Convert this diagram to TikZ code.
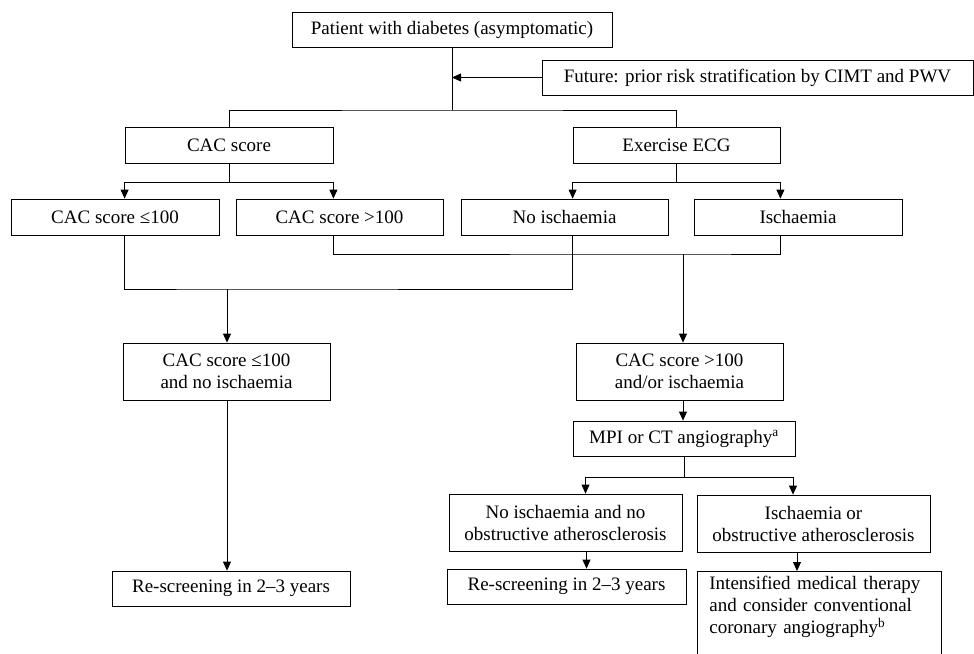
\documentclass[tikz,border=0pt]{standalone}
\usepackage{fontspec}
\setmainfont{Liberation Serif}
\usetikzlibrary{arrows.meta}

\begin{document}
\begin{tikzpicture}[x=1pt,y=-1pt,
  box/.style={draw,line width=0.8pt,inner sep=2pt,align=center,font=\fontsize{19}{22}\selectfont},
  link/.style={line width=0.8pt},
  arr/.style={link,-{Triangle[length=9pt,width=8pt]}}]
  \useasboundingbox (0,0) rectangle (974,653);

  % Start
  \node[box,minimum width=320pt,minimum height=35pt] (pat) at (452,29.5) {Patient with diabetes (asymptomatic)};
  \node[box,minimum width=431pt,minimum height=35pt] (fut) at (757.5,77.5) {Future: prior risk stratification by CIMT and PWV};
  \coordinate (bar1) at (452,110);
  \draw[arr] (fut.west) -- (pat.south |- fut.west);
  \draw[link] (pat.south) -- (bar1);

  % First tests
  \node[box,minimum width=208pt,minimum height=36pt] (cac) at (229,145) {CAC score};
  \node[box,minimum width=207pt,minimum height=36pt] (ecg) at (676.5,145) {Exercise ECG};
  \draw[link] (cac.north) |- (bar1) -| (ecg.north);

  % Results
  \node[box,minimum width=208pt,minimum height=36pt] (le) at (115,217) {CAC score ≤100};
  \node[box,minimum width=207pt,minimum height=36pt] (gt) at (339.5,217) {CAC score >100};
  \node[box,minimum width=207pt,minimum height=36pt] (ni) at (564.5,217) {No ischaemia};
  \node[box,minimum width=208pt,minimum height=36pt] (is) at (798,217) {Ischaemia};
  \draw[link] (cac.south) -- ++(0,19) coordinate (b2);
  \draw[arr] (b2) -| (le.north -| cac.west);
  \draw[arr] (b2) -| (gt.north -| cac.east);
  \draw[link] (ecg.south) -- ++(0,19) coordinate (b3);
  \draw[arr] (b3) -| (ni.north -| ecg.west);
  \draw[arr] (b3) -| (is.north -| ecg.east);

  % Combined outcomes
  \coordinate (j1) at (227,289);
  \coordinate (j2) at (683,254);
  \draw[link] (le.south -| cac.west) |- (j1) -| (ni.south -| ecg.west);
  \draw[link] (gt.south -| cac.east) |- (j2) -| (is.south -| ecg.east);
  \node[box,minimum width=207pt,minimum height=57pt] (le2) at (226.5,371.5) {CAC score ≤100\\and no ischaemia};
  \node[box,minimum width=207pt,minimum height=57pt] (gt2) at (679.5,371.5) {CAC score >100\\and/or ischaemia};
  \draw[arr] (j1) -- (j1 |- le2.north);
  \draw[arr] (j2) -- (j2 |- gt2.north);

  % Low risk side
  \node[box,minimum width=238pt,minimum height=35pt] (rs1) at (231,588.5) {Re-screening in 2–3 years};
  \draw[arr] (le2.south -| j1) -- (rs1.north -| j1);

  % High risk side
  \node[box,minimum width=222pt,minimum height=35pt] (mpi) at (684,438.5) {MPI or CT angiography\textsuperscript{a}};
  \draw[arr] (gt2.south -| j2) -- (mpi.north -| j2);
  \node[box,minimum width=233pt,minimum height=57pt] (nn) at (565.5,522.5) {No ischaemia and no\\obstructive atherosclerosis};
  \node[box,minimum width=233pt,minimum height=57pt] (io) at (813.5,523.5) {Ischaemia or\\obstructive atherosclerosis};
  \draw[link] (mpi.south) -- ++(0,21) coordinate (b4);
  \draw[arr] (b4) -| ([xshift=20pt]nn.north);
  \draw[arr] (b4) -| ([xshift=-20.5pt]io.north);
  \node[box,minimum width=239pt,minimum height=35pt] (rs2) at (566.5,586.5) {Re-screening in 2–3 years};
  \draw[arr] ([xshift=21pt]nn.south) -- ([xshift=21pt]nn.south |- rs2.north);
  \node[box,anchor=north west,inner xsep=12pt,inner ysep=5pt,text width=220pt,align=left] (int) at (697,571)
    {Intensified medical therapy\\and consider conventional\\coronary angiography\textsuperscript{b}\\\mbox{}};
  \draw[arr] ([xshift=-16.5pt]io.south) -- ([xshift=-16.5pt]io.south |- int.north);
\end{tikzpicture}
\end{document}
